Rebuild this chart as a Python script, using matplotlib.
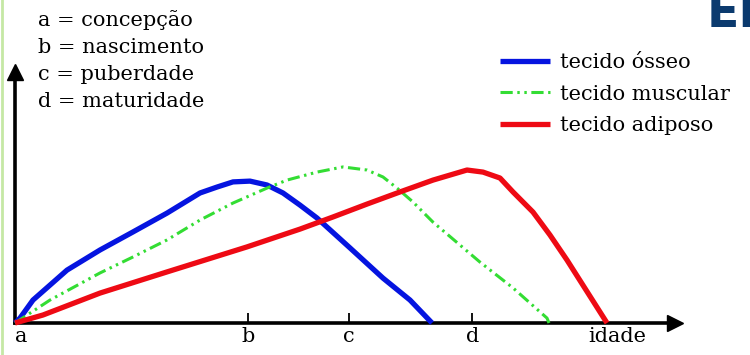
import matplotlib
matplotlib.use("Agg")
import matplotlib.pyplot as plt
from matplotlib.lines import Line2D

plt.rcParams['font.family'] = 'DejaVu Serif'

# curvas de crescimento (idade em unidades arbitrarias, 0 = concepcao)
idade_osseo = [0, 0.75, 2.7, 7.8, 12.75, 17.7, 22.8, 27.75, 30.3, 32.7, 35.25, 37.8, 40.2, 42.75,
               45.3, 50.25, 55.2, 59.25, 62.55]
osseo = [0, 1.9, 8.9, 20.5, 28.3, 35.3, 42.6, 50.4, 52.7, 54.7, 55.0, 53.5, 50.4, 45.7,
         40.7, 29.1, 17.4, 8.9, 0]

idade_muscular = [0, 5.25, 12.75, 17.7, 22.8, 27.75, 32.7, 37.8, 40.8, 45.3, 49.2, 52.8, 55.2,
                  57.3, 59.7, 62.7, 64.8, 69.75, 74.7, 79.8, 80.1]
muscular = [0, 8.9, 19.4, 25.6, 32.2, 39.9, 46.5, 52.3, 55.4, 58.5, 60.5, 59.3, 56.6,
            52.3, 46.9, 39.1, 34.5, 23.6, 13.6, 1.9, 0]

idade_adiposo = [0, 4.2, 12.75, 22.8, 34.8, 42.75, 47.7, 52.8, 57.75, 62.7, 67.8, 70.2, 72.75,
                 74.7, 77.7, 80.25, 82.8, 88.8]
adiposo = [0, 3.1, 11.6, 19.8, 29.5, 36.4, 41.1, 46.1, 50.8, 55.4, 59.3, 58.5, 56.2,
           50.8, 43.0, 34.1, 24.4, 0]

marcos = [1, 35, 50.1, 68.6, 90.3]
marcos_txt = ['a', 'b', 'c', 'd', 'idade']
legenda_txt = ['tecido ósseo', 'tecido muscular', 'tecido adiposo']
definicoes = ['a = concepção', 'b = nascimento', 'c = puberdade', 'd = maturidade']

fig = plt.figure(figsize=(7.5, 3.55), dpi=100)
ax = fig.add_axes([15/750, 32/355, 660/750, 251/355])
ax.set_xlim(0, 99)
ax.set_ylim(0, 97.3)

l1, = ax.plot(idade_osseo, osseo, color='#0514e0', lw=3.8, clip_on=False,
              solid_capstyle='butt', solid_joinstyle='round')
l2, = ax.plot(idade_muscular, muscular, color='#33dd33', lw=2.2, clip_on=False,
              dashes=(4, 1.5, 0.8, 1.5, 0.8, 1.5))
l3, = ax.plot(idade_adiposo, adiposo, color='#ee0a14', lw=3.8, clip_on=False,
              solid_capstyle='butt', solid_joinstyle='round')

for s in ['top', 'right']:
    ax.spines[s].set_visible(False)
for s in ['left', 'bottom']:
    ax.spines[s].set_linewidth(2.6)
    ax.spines[s].set_zorder(1)
ax.plot(1, 0, '>k', ms=12, transform=ax.get_yaxis_transform(), clip_on=False)
ax.plot(0, 1, '^k', ms=12, transform=ax.get_xaxis_transform(), clip_on=False)

ax.set_yticks([])
ax.set_xticks(marcos, labels=marcos_txt)
ax.tick_params(axis='x', direction='in', length=7, width=1.3, pad=3, labelsize=15)
ticks = ax.xaxis.get_major_ticks()
ticks[0].tick1line.set_visible(False)
ticks[-1].tick1line.set_visible(False)

for i, t in enumerate(definicoes):
    fig.text(38/750, 1 - (20 + 27.3*i)/355, t, fontsize=15, va='center', ha='left')

ax.legend([l1, l2, l3], legenda_txt, loc='upper left', bbox_to_anchor=(500/750, 1 - 53/355),
          bbox_transform=fig.transFigure, frameon=False, prop={'size': 15},
          handlelength=2.4, handletextpad=0.5, labelspacing=0.6, borderpad=0, borderaxespad=0)

fig.text(707/750, 1 - 27/355, 'EN', color='#0b3a6e', fontsize=34, fontweight='bold',
         family='DejaVu Sans', va='baseline', ha='left')

fig.add_artist(Line2D([1.5/750, 1.5/750], [0, 1], color='#c5e8a5', lw=2, transform=fig.transFigure))

fig.savefig('out.png', dpi=100)
